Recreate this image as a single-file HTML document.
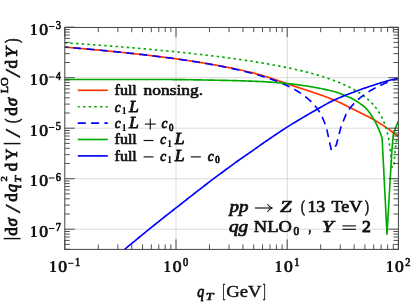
<!DOCTYPE html>
<html><head><meta charset="utf-8"><title>plot</title>
<style>
html,body{margin:0;padding:0;background:#fff;}
svg{display:block;will-change:transform;font-family:"Liberation Serif",serif;}
</style></head><body>
<svg width="412" height="305" viewBox="0 0 412 305">
<defs><clipPath id="clip"><rect x="64.8" y="27.2" width="333.60" height="222.20"/></clipPath></defs>
<rect width="412" height="305" fill="#fff"/>
<line x1="176.00" y1="27.2" x2="176.00" y2="249.4" stroke="#cfcfcf" stroke-width="0.8"/>
<line x1="287.20" y1="27.2" x2="287.20" y2="249.4" stroke="#cfcfcf" stroke-width="0.8"/>
<line x1="64.8" y1="77.70" x2="398.4" y2="77.70" stroke="#cfcfcf" stroke-width="0.8"/>
<line x1="64.8" y1="128.20" x2="398.4" y2="128.20" stroke="#cfcfcf" stroke-width="0.8"/>
<line x1="64.8" y1="178.70" x2="398.4" y2="178.70" stroke="#cfcfcf" stroke-width="0.8"/>
<line x1="64.8" y1="229.20" x2="398.4" y2="229.20" stroke="#cfcfcf" stroke-width="0.8"/>
<g clip-path="url(#clip)" fill="none" stroke-width="1.65" stroke-linejoin="round">
<path d="M64.80,47.13 L65.80,47.22 L66.80,47.30 L67.80,47.38 L68.80,47.46 L69.80,47.55 L70.80,47.63 L71.80,47.71 L72.80,47.80 L73.80,47.88 L74.80,47.97 L75.80,48.05 L76.80,48.14 L77.80,48.22 L78.80,48.31 L79.80,48.39 L80.80,48.48 L81.80,48.57 L82.80,48.66 L83.80,48.74 L84.80,48.83 L85.80,48.92 L86.80,49.01 L87.80,49.10 L88.80,49.19 L89.80,49.28 L90.80,49.37 L91.80,49.46 L92.80,49.55 L93.80,49.64 L94.80,49.73 L95.80,49.82 L96.80,49.92 L97.80,50.01 L98.80,50.10 L99.80,50.19 L100.80,50.29 L101.80,50.38 L102.80,50.48 L103.80,50.57 L104.80,50.67 L105.80,50.77 L106.80,50.86 L107.80,50.96 L108.80,51.06 L109.80,51.15 L110.80,51.25 L111.80,51.35 L112.80,51.45 L113.80,51.55 L114.80,51.65 L115.80,51.75 L116.80,51.85 L117.80,51.95 L118.80,52.05 L119.80,52.16 L120.80,52.26 L121.80,52.36 L122.80,52.47 L123.80,52.57 L124.80,52.67 L125.80,52.78 L126.80,52.89 L127.80,52.99 L128.80,53.10 L129.80,53.21 L130.80,53.31 L131.80,53.42 L132.80,53.53 L133.80,53.64 L134.80,53.75 L135.80,53.86 L136.80,53.97 L137.80,54.08 L138.80,54.20 L139.80,54.31 L140.80,54.42 L141.80,54.54 L142.80,54.65 L143.80,54.76 L144.80,54.88 L145.80,55.00 L146.80,55.11 L147.80,55.23 L148.80,55.35 L149.80,55.47 L150.80,55.59 L151.80,55.71 L152.80,55.83 L153.80,55.95 L154.80,56.07 L155.80,56.19 L156.80,56.32 L157.80,56.44 L158.80,56.57 L159.80,56.69 L160.80,56.82 L161.80,56.94 L162.80,57.07 L163.80,57.20 L164.80,57.33 L165.80,57.46 L166.80,57.59 L167.80,57.72 L168.80,57.85 L169.80,57.99 L170.80,58.12 L171.80,58.25 L172.80,58.39 L173.80,58.53 L174.80,58.66 L175.80,58.80 L176.80,58.94 L177.80,59.08 L178.80,59.22 L179.80,59.36 L180.80,59.50 L181.80,59.64 L182.80,59.79 L183.80,59.93 L184.80,60.08 L185.80,60.22 L186.80,60.37 L187.80,60.52 L188.80,60.67 L189.80,60.82 L190.80,60.97 L191.80,61.12 L192.80,61.28 L193.80,61.43 L194.80,61.59 L195.80,61.74 L196.80,61.90 L197.80,62.06 L198.80,62.22 L199.80,62.38 L200.80,62.54 L201.80,62.70 L202.80,62.87 L203.80,63.03 L204.80,63.20 L205.80,63.37 L206.80,63.53 L207.80,63.70 L208.80,63.88 L209.80,64.05 L210.80,64.22 L211.80,64.40 L212.80,64.57 L213.80,64.75 L214.80,64.93 L215.80,65.11 L216.80,65.29 L217.80,65.47 L218.80,65.66 L219.80,65.84 L220.80,66.03 L221.80,66.22 L222.80,66.41 L223.80,66.60 L224.80,66.79 L225.80,66.99 L226.80,67.18 L227.80,67.38 L228.80,67.58 L229.80,67.78 L230.80,67.98 L231.80,68.18 L232.80,68.39 L233.80,68.60 L234.80,68.80 L235.80,69.01 L236.80,69.23 L237.80,69.44 L238.80,69.66 L239.80,69.87 L240.80,70.09 L241.80,70.31 L242.80,70.54 L243.80,70.76 L244.80,70.99 L245.80,71.22 L246.80,71.45 L247.80,71.68 L248.80,71.92 L249.80,72.15 L250.80,72.39 L251.80,72.63 L252.80,72.87 L253.80,73.12 L254.80,73.37 L255.80,73.64 L256.80,73.92 L257.80,74.20 L258.80,74.48 L259.80,74.77 L260.80,75.05 L261.80,75.34 L262.80,75.63 L263.80,75.92 L264.80,76.22 L265.80,76.52 L266.80,76.83 L267.80,77.14 L268.80,77.45 L269.80,77.77 L270.80,78.09 L271.80,78.42 L272.80,78.75 L273.80,79.08 L274.80,79.42 L275.80,79.76 L276.80,80.11 L277.80,80.46 L278.80,80.81 L279.80,81.16 L280.80,81.51 L281.80,81.87 L282.80,82.22 L283.80,82.58 L284.80,82.94 L285.80,83.29 L286.80,83.64 L287.80,83.99 L288.80,84.34 L289.80,84.68 L290.80,85.03 L291.80,85.37 L292.80,85.72 L293.80,86.06 L294.80,86.40 L295.80,86.71 L296.80,87.02 L297.80,87.34 L298.80,87.65 L299.80,87.96 L300.80,88.28 L301.80,88.60 L302.80,88.92 L303.80,89.24 L304.80,89.57 L305.80,89.90 L306.80,90.23 L307.80,90.57 L308.80,90.90 L309.80,91.23 L310.80,91.57 L311.80,91.90 L312.80,92.24 L313.80,92.58 L314.80,92.91 L315.80,93.25 L316.80,93.60 L317.80,93.94 L318.80,94.29 L319.80,94.64 L320.80,94.99 L321.80,95.34 L322.80,95.70 L323.80,96.06 L324.80,96.43 L325.80,96.80 L326.80,97.17 L327.80,97.55 L328.80,97.93 L329.80,98.32 L330.80,98.71 L331.80,99.11 L332.80,99.51 L333.80,99.92 L334.80,100.34 L335.80,100.77 L336.80,101.21 L337.80,101.65 L338.80,102.10 L339.80,102.56 L340.80,103.03 L341.80,103.50 L342.80,103.98 L343.80,104.46 L344.80,104.95 L345.80,105.44 L346.80,105.93 L347.80,106.43 L348.80,106.93 L349.80,107.44 L350.80,107.94 L351.80,108.45 L352.80,108.96 L353.80,109.47 L354.80,109.97 L355.80,110.48 L356.80,110.99 L357.80,111.49 L358.80,112.00 L359.80,112.50 L360.80,113.00 L361.80,113.49 L362.80,113.98 L363.80,114.47 L364.80,114.96 L365.80,115.46 L366.80,115.95 L367.80,116.46 L368.80,116.97 L369.80,117.48 L370.80,118.01 L371.80,118.55 L372.80,119.10 L373.80,119.67 L374.80,120.25 L375.80,120.84 L376.80,121.44 L377.80,122.05 L378.80,122.67 L379.80,123.30 L380.80,123.93 L381.80,124.58 L382.80,125.23 L383.80,125.89 L384.80,126.56 L385.80,127.24 L386.80,127.93 L387.80,128.63 L388.80,129.34 L389.80,130.06 L390.80,130.78 L391.80,131.52 L392.80,132.26 L393.80,133.01 L394.80,133.78 L395.80,134.55 L396.80,135.33 L397.80,136.12" stroke="#ff3300"/>
<path d="M64.80,42.76 L65.80,42.83 L66.80,42.90 L67.80,42.96 L68.80,43.03 L69.80,43.10 L70.80,43.17 L71.80,43.24 L72.80,43.30 L73.80,43.37 L74.80,43.44 L75.80,43.51 L76.80,43.58 L77.80,43.65 L78.80,43.72 L79.80,43.79 L80.80,43.86 L81.80,43.93 L82.80,44.00 L83.80,44.07 L84.80,44.14 L85.80,44.21 L86.80,44.29 L87.80,44.36 L88.80,44.43 L89.80,44.50 L90.80,44.57 L91.80,44.65 L92.80,44.72 L93.80,44.79 L94.80,44.87 L95.80,44.94 L96.80,45.02 L97.80,45.09 L98.80,45.16 L99.80,45.24 L100.80,45.31 L101.80,45.39 L102.80,45.46 L103.80,45.54 L104.80,45.62 L105.80,45.69 L106.80,45.77 L107.80,45.85 L108.80,45.92 L109.80,46.00 L110.80,46.08 L111.80,46.16 L112.80,46.23 L113.80,46.31 L114.80,46.39 L115.80,46.47 L116.80,46.55 L117.80,46.63 L118.80,46.71 L119.80,46.79 L120.80,46.87 L121.80,46.95 L122.80,47.03 L123.80,47.11 L124.80,47.20 L125.80,47.28 L126.80,47.36 L127.80,47.44 L128.80,47.52 L129.80,47.61 L130.80,47.69 L131.80,47.78 L132.80,47.86 L133.80,47.94 L134.80,48.03 L135.80,48.11 L136.80,48.20 L137.80,48.29 L138.80,48.37 L139.80,48.46 L140.80,48.55 L141.80,48.63 L142.80,48.72 L143.80,48.81 L144.80,48.90 L145.80,48.99 L146.80,49.07 L147.80,49.16 L148.80,49.25 L149.80,49.34 L150.80,49.43 L151.80,49.52 L152.80,49.62 L153.80,49.71 L154.80,49.80 L155.80,49.89 L156.80,49.98 L157.80,50.08 L158.80,50.17 L159.80,50.27 L160.80,50.36 L161.80,50.45 L162.80,50.55 L163.80,50.65 L164.80,50.74 L165.80,50.84 L166.80,50.93 L167.80,51.03 L168.80,51.13 L169.80,51.23 L170.80,51.33 L171.80,51.43 L172.80,51.52 L173.80,51.62 L174.80,51.73 L175.80,51.83 L176.80,51.93 L177.80,52.03 L178.80,52.13 L179.80,52.23 L180.80,52.34 L181.80,52.44 L182.80,52.55 L183.80,52.65 L184.80,52.76 L185.80,52.86 L186.80,52.97 L187.80,53.07 L188.80,53.18 L189.80,53.29 L190.80,53.40 L191.80,53.51 L192.80,53.62 L193.80,53.73 L194.80,53.84 L195.80,53.95 L196.80,54.06 L197.80,54.17 L198.80,54.28 L199.80,54.40 L200.80,54.51 L201.80,54.63 L202.80,54.74 L203.80,54.86 L204.80,54.97 L205.80,55.09 L206.80,55.21 L207.80,55.33 L208.80,55.45 L209.80,55.56 L210.80,55.68 L211.80,55.81 L212.80,55.93 L213.80,56.05 L214.80,56.17 L215.80,56.30 L216.80,56.42 L217.80,56.55 L218.80,56.67 L219.80,56.80 L220.80,56.92 L221.80,57.05 L222.80,57.18 L223.80,57.31 L224.80,57.44 L225.80,57.57 L226.80,57.70 L227.80,57.84 L228.80,57.97 L229.80,58.10 L230.80,58.24 L231.80,58.37 L232.80,58.51 L233.80,58.65 L234.80,58.79 L235.80,58.93 L236.80,59.07 L237.80,59.21 L238.80,59.35 L239.80,59.49 L240.80,59.64 L241.80,59.78 L242.80,59.93 L243.80,60.07 L244.80,60.22 L245.80,60.37 L246.80,60.52 L247.80,60.67 L248.80,60.82 L249.80,60.98 L250.80,61.13 L251.80,61.29 L252.80,61.44 L253.80,61.60 L254.80,61.76 L255.80,61.92 L256.80,62.08 L257.80,62.24 L258.80,62.40 L259.80,62.57 L260.80,62.73 L261.80,62.90 L262.80,63.07 L263.80,63.24 L264.80,63.41 L265.80,63.58 L266.80,63.75 L267.80,63.93 L268.80,64.10 L269.80,64.28 L270.80,64.46 L271.80,64.64 L272.80,64.82 L273.80,65.01 L274.80,65.19 L275.80,65.38 L276.80,65.57 L277.80,65.76 L278.80,65.95 L279.80,66.14 L280.80,66.34 L281.80,66.53 L282.80,66.73 L283.80,66.93 L284.80,67.14 L285.80,67.34 L286.80,67.55 L287.80,67.75 L288.80,67.96 L289.80,68.18 L290.80,68.39 L291.80,68.61 L292.80,68.82 L293.80,69.05 L294.80,69.27 L295.80,69.49 L296.80,69.72 L297.80,69.95 L298.80,70.18 L299.80,70.42 L300.80,70.65 L301.80,70.89 L302.80,71.14 L303.80,71.38 L304.80,71.63 L305.80,71.88 L306.80,72.14 L307.80,72.39 L308.80,72.65 L309.80,72.91 L310.80,73.18 L311.80,73.45 L312.80,73.72 L313.80,74.00 L314.80,74.28 L315.80,74.56 L316.80,74.85 L317.80,75.14 L318.80,75.43 L319.80,75.73 L320.80,76.04 L321.80,76.34 L322.80,76.65 L323.80,76.97 L324.80,77.29 L325.80,77.62 L326.80,77.95 L327.80,78.28 L328.80,78.62 L329.80,78.97 L330.80,79.32 L331.80,79.68 L332.80,80.04 L333.80,80.41 L334.80,80.78 L335.80,81.16 L336.80,81.55 L337.80,81.95 L338.80,82.35 L339.80,82.76 L340.80,83.18 L341.80,83.61 L342.80,84.04 L343.80,84.49 L344.80,84.94 L345.80,85.40 L346.80,85.87 L347.80,86.36 L348.80,86.85 L349.80,87.35 L350.80,87.87 L351.80,88.40 L352.80,88.94 L353.80,89.50 L354.80,90.07 L355.80,90.66 L356.80,91.26 L357.80,91.88 L358.80,92.51 L359.80,93.17 L360.80,93.85 L361.80,94.54 L362.80,95.26 L363.80,96.01 L364.80,96.78 L365.80,97.58 L366.80,98.41 L367.80,99.27 L368.80,100.17 L369.80,101.11 L370.80,102.08 L371.80,103.11 L372.80,104.18 L373.80,105.31 L374.80,106.50 L375.80,107.76 L376.80,109.09 L377.80,110.51 L378.80,112.03 L379.80,113.67 L380.80,115.43 L381.80,117.35 L382.80,119.46 L383.80,121.78 L384.80,124.39 L385.80,127.34 L386.80,130.76 L387.80,134.80 L388.80,139.77 L389.80,146.20 L390.80,155.34 L391.80,167.00 L392.80,167.00 L393.80,167.00 L394.80,153.90 L395.80,145.24 L396.80,139.05 L397.80,134.23" stroke="#00aa00" stroke-dasharray="2.4,3.25"/>
<path d="M64.80,47.13 L65.80,47.22 L66.80,47.30 L67.80,47.38 L68.80,47.46 L69.80,47.55 L70.80,47.63 L71.80,47.71 L72.80,47.80 L73.80,47.88 L74.80,47.97 L75.80,48.05 L76.80,48.14 L77.80,48.22 L78.80,48.31 L79.80,48.39 L80.80,48.48 L81.80,48.57 L82.80,48.66 L83.80,48.74 L84.80,48.83 L85.80,48.92 L86.80,49.01 L87.80,49.10 L88.80,49.19 L89.80,49.28 L90.80,49.37 L91.80,49.46 L92.80,49.55 L93.80,49.64 L94.80,49.73 L95.80,49.82 L96.80,49.92 L97.80,50.01 L98.80,50.10 L99.80,50.20 L100.80,50.29 L101.80,50.38 L102.80,50.48 L103.80,50.57 L104.80,50.67 L105.80,50.77 L106.80,50.86 L107.80,50.96 L108.80,51.06 L109.80,51.16 L110.80,51.25 L111.80,51.35 L112.80,51.45 L113.80,51.55 L114.80,51.65 L115.80,51.75 L116.80,51.85 L117.80,51.95 L118.80,52.06 L119.80,52.16 L120.80,52.26 L121.80,52.36 L122.80,52.47 L123.80,52.57 L124.80,52.68 L125.80,52.78 L126.80,52.89 L127.80,53.00 L128.80,53.10 L129.80,53.21 L130.80,53.32 L131.80,53.43 L132.80,53.53 L133.80,53.64 L134.80,53.75 L135.80,53.87 L136.80,53.98 L137.80,54.09 L138.80,54.20 L139.80,54.31 L140.80,54.43 L141.80,54.54 L142.80,54.66 L143.80,54.77 L144.80,54.89 L145.80,55.00 L146.80,55.12 L147.80,55.24 L148.80,55.36 L149.80,55.48 L150.80,55.60 L151.80,55.72 L152.80,55.84 L153.80,55.96 L154.80,56.08 L155.80,56.20 L156.80,56.33 L157.80,56.45 L158.80,56.58 L159.80,56.70 L160.80,56.83 L161.80,56.96 L162.80,57.09 L163.80,57.22 L164.80,57.34 L165.80,57.48 L166.80,57.61 L167.80,57.74 L168.80,57.87 L169.80,58.00 L170.80,58.14 L171.80,58.27 L172.80,58.41 L173.80,58.55 L174.80,58.69 L175.80,58.82 L176.80,58.96 L177.80,59.10 L178.80,59.25 L179.80,59.39 L180.80,59.53 L181.80,59.67 L182.80,59.82 L183.80,59.97 L184.80,60.11 L185.80,60.26 L186.80,60.41 L187.80,60.56 L188.80,60.71 L189.80,60.86 L190.80,61.02 L191.80,61.17 L192.80,61.33 L193.80,61.48 L194.80,61.64 L195.80,61.80 L196.80,61.96 L197.80,62.12 L198.80,62.28 L199.80,62.45 L200.80,62.61 L201.80,62.78 L202.80,62.94 L203.80,63.11 L204.80,63.28 L205.80,63.45 L206.80,63.63 L207.80,63.80 L208.80,63.97 L209.80,64.15 L210.80,64.33 L211.80,64.51 L212.80,64.69 L213.80,64.87 L214.80,65.06 L215.80,65.24 L216.80,65.43 L217.80,65.62 L218.80,65.81 L219.80,66.00 L220.80,66.19 L221.80,66.39 L222.80,66.59 L223.80,66.79 L224.80,66.99 L225.80,67.19 L226.80,67.39 L227.80,67.60 L228.80,67.81 L229.80,68.02 L230.80,68.23 L231.80,68.45 L232.80,68.66 L233.80,68.88 L234.80,69.10 L235.80,69.33 L236.80,69.55 L237.80,69.78 L238.80,70.01 L239.80,70.24 L240.80,70.48 L241.80,70.72 L242.80,70.96 L243.80,71.20 L244.80,71.45 L245.80,71.70 L246.80,71.95 L247.80,72.20 L248.80,72.46 L249.80,72.72 L250.80,72.98 L251.80,73.25 L252.80,73.52 L253.80,73.79 L254.80,74.07 L255.80,74.35 L256.80,74.64 L257.80,74.92 L258.80,75.22 L259.80,75.51 L260.80,75.81 L261.80,76.12 L262.80,76.42 L263.80,76.74 L264.80,77.05 L265.80,77.37 L266.80,77.70 L267.80,78.03 L268.80,78.37 L269.80,78.71 L270.80,79.06 L271.80,79.41 L272.80,79.77 L273.80,80.13 L274.80,80.50 L275.80,80.88 L276.80,81.27 L277.80,81.66 L278.80,82.05 L279.80,82.46 L280.80,82.87 L281.80,83.29 L282.80,83.72 L283.80,84.16 L284.80,84.60 L285.80,85.06 L286.80,85.52 L287.80,86.00 L288.80,86.48 L289.80,86.98 L290.80,87.49 L291.80,88.01 L292.80,88.54 L293.80,89.09 L294.80,89.65 L295.80,90.22 L296.80,90.81 L297.80,91.42 L298.80,92.04 L299.80,92.68 L300.80,93.34 L301.80,94.03 L302.80,94.73 L303.80,95.46 L304.80,96.21 L305.80,96.99 L306.80,97.79 L307.80,98.63 L308.80,99.50 L309.80,100.41 L310.80,101.36 L311.80,102.35 L312.80,103.38 L313.80,104.47 L314.80,105.61 L315.80,106.82 L316.80,108.10 L317.80,109.46 L318.80,110.90 L319.80,112.45 L320.80,114.12 L321.80,115.92 L326.30,126.90 L331.30,150.20 L336.20,145.30 L341.00,126.90 L346.00,114.37 L347.00,112.68 L348.00,111.12 L349.00,109.66 L350.00,108.29 L351.00,107.00 L352.00,105.79 L353.00,104.63 L354.00,103.54 L355.00,102.49 L356.00,101.50 L357.00,100.55 L358.00,99.63 L359.00,98.76 L360.00,97.91 L361.00,97.10 L362.00,96.32 L363.00,95.56 L364.00,94.83 L365.00,94.13 L366.00,93.44 L367.00,92.78 L368.00,92.13 L369.00,91.51 L370.00,90.90 L371.00,90.31 L372.00,89.73 L373.00,89.17 L374.00,88.62 L375.00,88.08 L376.00,87.56 L377.00,87.05 L378.00,86.55 L379.00,86.07 L380.00,85.59 L381.00,85.12 L382.00,84.67 L383.00,84.22 L384.00,83.78 L385.00,83.35 L386.00,82.93 L387.00,82.52 L388.00,82.11 L389.00,81.71 L390.00,81.32 L391.00,80.94 L392.00,80.56 L393.00,80.19 L394.00,79.82 L395.00,79.46 L396.00,79.11 L397.00,78.76 L398.00,78.42" stroke="#0000ff" stroke-dasharray="8,5.3" stroke-dashoffset="4.9"/>
<path d="M64.80,79.50 L65.80,79.50 L66.80,79.50 L67.80,79.50 L68.80,79.50 L69.80,79.50 L70.80,79.50 L71.80,79.50 L72.80,79.50 L73.80,79.50 L74.80,79.50 L75.80,79.50 L76.80,79.50 L77.80,79.50 L78.80,79.50 L79.80,79.50 L80.80,79.50 L81.80,79.50 L82.80,79.50 L83.80,79.50 L84.80,79.50 L85.80,79.50 L86.80,79.50 L87.80,79.50 L88.80,79.50 L89.80,79.50 L90.80,79.50 L91.80,79.50 L92.80,79.50 L93.80,79.50 L94.80,79.50 L95.80,79.50 L96.80,79.50 L97.80,79.50 L98.80,79.50 L99.80,79.50 L100.80,79.50 L101.80,79.50 L102.80,79.50 L103.80,79.50 L104.80,79.50 L105.80,79.50 L106.80,79.50 L107.80,79.50 L108.80,79.50 L109.80,79.50 L110.80,79.50 L111.80,79.50 L112.80,79.50 L113.80,79.50 L114.80,79.50 L115.80,79.50 L116.80,79.50 L117.80,79.50 L118.80,79.50 L119.80,79.50 L120.80,79.50 L121.80,79.50 L122.80,79.50 L123.80,79.50 L124.80,79.50 L125.80,79.50 L126.80,79.50 L127.80,79.50 L128.80,79.50 L129.80,79.50 L130.80,79.50 L131.80,79.50 L132.80,79.50 L133.80,79.50 L134.80,79.50 L135.80,79.50 L136.80,79.50 L137.80,79.50 L138.80,79.50 L139.80,79.50 L140.80,79.50 L141.80,79.50 L142.80,79.50 L143.80,79.50 L144.80,79.50 L145.80,79.50 L146.80,79.50 L147.80,79.50 L148.80,79.50 L149.80,79.50 L150.80,79.50 L151.80,79.50 L152.80,79.50 L153.80,79.50 L154.80,79.50 L155.80,79.50 L156.80,79.50 L157.80,79.50 L158.80,79.50 L159.80,79.50 L160.80,79.50 L161.80,79.50 L162.80,79.50 L163.80,79.50 L164.80,79.51 L165.80,79.51 L166.80,79.52 L167.80,79.52 L168.80,79.53 L169.80,79.53 L170.80,79.54 L171.80,79.55 L172.80,79.55 L173.80,79.56 L174.80,79.57 L175.80,79.58 L176.80,79.59 L177.80,79.60 L178.80,79.61 L179.80,79.62 L180.80,79.63 L181.80,79.64 L182.80,79.66 L183.80,79.67 L184.80,79.68 L185.80,79.70 L186.80,79.71 L187.80,79.73 L188.80,79.74 L189.80,79.75 L190.80,79.77 L191.80,79.79 L192.80,79.80 L193.80,79.82 L194.80,79.83 L195.80,79.85 L196.80,79.87 L197.80,79.89 L198.80,79.90 L199.80,79.92 L200.80,79.94 L201.80,79.96 L202.80,79.97 L203.80,79.99 L204.80,80.01 L205.80,80.03 L206.80,80.05 L207.80,80.07 L208.80,80.09 L209.80,80.11 L210.80,80.12 L211.80,80.14 L212.80,80.16 L213.80,80.18 L214.80,80.20 L215.80,80.22 L216.80,80.24 L217.80,80.26 L218.80,80.28 L219.80,80.30 L220.80,80.32 L221.80,80.33 L222.80,80.35 L223.80,80.38 L224.80,80.40 L225.80,80.42 L226.80,80.44 L227.80,80.46 L228.80,80.48 L229.80,80.51 L230.80,80.53 L231.80,80.56 L232.80,80.58 L233.80,80.61 L234.80,80.63 L235.80,80.66 L236.80,80.68 L237.80,80.71 L238.80,80.74 L239.80,80.77 L240.80,80.80 L241.80,80.83 L242.80,80.86 L243.80,80.89 L244.80,80.92 L245.80,80.96 L246.80,80.99 L247.80,81.02 L248.80,81.06 L249.80,81.09 L250.80,81.13 L251.80,81.17 L252.80,81.20 L253.80,81.24 L254.80,81.28 L255.80,81.32 L256.80,81.36 L257.80,81.41 L258.80,81.45 L259.80,81.49 L260.80,81.54 L261.80,81.58 L262.80,81.63 L263.80,81.69 L264.80,81.74 L265.80,81.80 L266.80,81.86 L267.80,81.92 L268.80,81.99 L269.80,82.06 L270.80,82.13 L271.80,82.20 L272.80,82.27 L273.80,82.35 L274.80,82.43 L275.80,82.51 L276.80,82.59 L277.80,82.67 L278.80,82.75 L279.80,82.84 L280.80,82.93 L281.80,83.02 L282.80,83.11 L283.80,83.20 L284.80,83.29 L285.80,83.39 L286.80,83.48 L287.80,83.58 L288.80,83.68 L289.80,83.78 L290.80,83.89 L291.80,84.01 L292.80,84.12 L293.80,84.24 L294.80,84.36 L295.80,84.49 L296.80,84.62 L297.80,84.75 L298.80,84.89 L299.80,85.03 L300.80,85.17 L301.80,85.31 L302.80,85.45 L303.80,85.60 L304.80,85.75 L305.80,85.90 L306.80,86.06 L307.80,86.21 L308.80,86.37 L309.80,86.53 L310.80,86.69 L311.80,86.86 L312.80,87.03 L313.80,87.21 L314.80,87.39 L315.80,87.57 L316.80,87.76 L317.80,87.95 L318.80,88.14 L319.80,88.34 L320.80,88.54 L321.80,88.75 L322.80,88.96 L323.80,89.17 L324.80,89.38 L325.80,89.60 L326.80,89.82 L327.80,90.04 L328.80,90.27 L329.80,90.50 L330.80,90.74 L331.80,90.98 L332.80,91.23 L333.80,91.49 L334.80,91.77 L335.80,92.06 L336.80,92.36 L337.80,92.69 L338.80,93.05 L339.80,93.43 L340.80,93.83 L341.80,94.24 L342.80,94.65 L343.80,95.08 L344.80,95.50 L345.80,95.92 L346.80,96.33 L347.80,96.73 L348.80,97.14 L349.80,97.55 L350.80,97.99 L351.80,98.45 L352.80,98.95 L353.80,99.50 L354.80,100.08 L355.80,100.69 L356.80,101.33 L357.80,101.99 L358.80,102.67 L359.80,103.36 L360.80,104.06 L361.80,104.76 L362.80,105.49 L363.80,106.27 L364.80,107.14 L365.80,108.10 L366.80,109.18 L367.80,110.36 L368.80,111.64 L369.80,113.01 L370.80,114.46 L371.80,115.99 L372.80,117.58 L373.80,119.23 L374.80,120.95 L375.80,122.84 L376.80,124.89 L377.80,127.07 L378.80,129.36 L379.80,131.77 L380.80,134.41 L381.80,137.23 L382.10,138.10 L387.00,234.30 L391.80,152.00 L393.30,134.40 L395.90,127.30 L398.20,121.40" stroke="#00aa00"/>
<path d="M114.70,257.60 L124.70,249.30 L126.70,247.64 L128.70,245.98 L130.70,244.33 L132.70,242.68 L134.70,241.03 L136.70,239.39 L138.70,237.75 L140.70,236.12 L142.70,234.48 L144.70,232.86 L146.70,231.23 L148.70,229.61 L150.70,227.98 L152.70,226.37 L154.70,224.75 L156.70,223.14 L158.70,221.54 L160.70,219.94 L162.70,218.35 L164.70,216.76 L166.70,215.19 L168.70,213.63 L170.70,212.07 L172.70,210.51 L174.70,208.95 L176.70,207.39 L178.70,205.81 L180.70,204.23 L182.70,202.65 L184.70,201.06 L186.70,199.49 L188.70,197.92 L190.70,196.35 L192.70,194.80 L194.70,193.24 L196.70,191.69 L198.70,190.14 L200.70,188.60 L202.70,187.06 L204.70,185.52 L206.70,183.99 L208.70,182.46 L210.70,180.94 L212.70,179.43 L214.70,177.92 L216.70,176.44 L218.70,174.96 L220.70,173.48 L222.70,172.00 L224.70,170.52 L226.70,169.03 L228.70,167.55 L230.70,166.08 L232.70,164.61 L234.70,163.16 L236.70,161.71 L238.70,160.29 L240.70,158.88 L242.70,157.49 L244.70,156.10 L246.70,154.72 L248.70,153.34 L250.70,151.96 L252.70,150.57 L254.70,149.18 L256.70,147.78 L258.70,146.37 L260.70,144.95 L262.70,143.54 L264.70,142.13 L266.70,140.73 L268.70,139.35 L270.70,137.97 L272.70,136.62 L274.70,135.27 L276.70,133.95 L278.70,132.62 L280.70,131.31 L282.70,130.00 L284.70,128.68 L286.70,127.39 L288.70,126.14 L290.70,124.90 L292.70,123.67 L294.70,122.44 L296.70,121.23 L298.70,120.03 L300.70,118.84 L302.70,117.65 L304.70,116.48 L306.70,115.31 L308.70,114.14 L310.70,112.99 L312.70,111.84 L314.70,110.70 L316.70,109.57 L318.70,108.43 L320.70,107.29 L322.70,106.15 L324.70,105.01 L326.70,103.90 L328.70,102.81 L330.70,101.77 L332.70,100.77 L334.70,99.84 L336.70,98.93 L338.70,98.05 L340.70,97.20 L342.70,96.37 L344.70,95.55 L346.70,94.76 L348.70,93.98 L350.70,93.22 L352.70,92.46 L354.70,91.72 L356.70,90.99 L358.70,90.27 L360.70,89.55 L362.70,88.84 L364.70,88.13 L366.70,87.44 L368.70,86.75 L370.70,86.08 L372.70,85.41 L374.70,84.76 L376.70,84.12 L378.70,83.49 L380.70,82.88 L382.70,82.27 L384.70,81.69 L386.70,81.12 L388.70,80.56 L390.70,80.03 L392.70,79.51 L394.70,79.00 L396.70,78.51" stroke="#0000ff"/>
</g>
<path d="M64.80,249.4 v-10 M64.80,27.2 v10 M98.27,249.4 v-5 M98.27,27.2 v5 M117.86,249.4 v-5 M117.86,27.2 v5 M131.75,249.4 v-5 M131.75,27.2 v5 M142.53,249.4 v-5 M142.53,27.2 v5 M151.33,249.4 v-5 M151.33,27.2 v5 M158.77,249.4 v-5 M158.77,27.2 v5 M165.22,249.4 v-5 M165.22,27.2 v5 M170.91,249.4 v-5 M170.91,27.2 v5 M176.00,249.4 v-10 M176.00,27.2 v10 M209.47,249.4 v-5 M209.47,27.2 v5 M229.06,249.4 v-5 M229.06,27.2 v5 M242.95,249.4 v-5 M242.95,27.2 v5 M253.73,249.4 v-5 M253.73,27.2 v5 M262.53,249.4 v-5 M262.53,27.2 v5 M269.97,249.4 v-5 M269.97,27.2 v5 M276.42,249.4 v-5 M276.42,27.2 v5 M282.11,249.4 v-5 M282.11,27.2 v5 M287.20,249.4 v-10 M287.20,27.2 v10 M320.67,249.4 v-5 M320.67,27.2 v5 M340.26,249.4 v-5 M340.26,27.2 v5 M354.15,249.4 v-5 M354.15,27.2 v5 M364.93,249.4 v-5 M364.93,27.2 v5 M373.73,249.4 v-5 M373.73,27.2 v5 M381.17,249.4 v-5 M381.17,27.2 v5 M387.62,249.4 v-5 M387.62,27.2 v5 M393.31,249.4 v-5 M393.31,27.2 v5 M398.40,249.4 v-10 M398.40,27.2 v10 M64.8,249.30 h5 M398.4,249.30 h-5 M64.8,244.40 h5 M398.4,244.40 h-5 M64.8,240.40 h5 M398.4,240.40 h-5 M64.8,237.02 h5 M398.4,237.02 h-5 M64.8,234.09 h5 M398.4,234.09 h-5 M64.8,231.51 h5 M398.4,231.51 h-5 M64.8,229.20 h10 M398.4,229.20 h-10 M64.8,214.00 h5 M398.4,214.00 h-5 M64.8,205.11 h5 M398.4,205.11 h-5 M64.8,198.80 h5 M398.4,198.80 h-5 M64.8,193.90 h5 M398.4,193.90 h-5 M64.8,189.90 h5 M398.4,189.90 h-5 M64.8,186.52 h5 M398.4,186.52 h-5 M64.8,183.59 h5 M398.4,183.59 h-5 M64.8,181.01 h5 M398.4,181.01 h-5 M64.8,178.70 h10 M398.4,178.70 h-10 M64.8,163.50 h5 M398.4,163.50 h-5 M64.8,154.61 h5 M398.4,154.61 h-5 M64.8,148.30 h5 M398.4,148.30 h-5 M64.8,143.40 h5 M398.4,143.40 h-5 M64.8,139.40 h5 M398.4,139.40 h-5 M64.8,136.02 h5 M398.4,136.02 h-5 M64.8,133.09 h5 M398.4,133.09 h-5 M64.8,130.51 h5 M398.4,130.51 h-5 M64.8,128.20 h10 M398.4,128.20 h-10 M64.8,113.00 h5 M398.4,113.00 h-5 M64.8,104.11 h5 M398.4,104.11 h-5 M64.8,97.80 h5 M398.4,97.80 h-5 M64.8,92.90 h5 M398.4,92.90 h-5 M64.8,88.90 h5 M398.4,88.90 h-5 M64.8,85.52 h5 M398.4,85.52 h-5 M64.8,82.59 h5 M398.4,82.59 h-5 M64.8,80.01 h5 M398.4,80.01 h-5 M64.8,77.70 h10 M398.4,77.70 h-10 M64.8,62.50 h5 M398.4,62.50 h-5 M64.8,53.61 h5 M398.4,53.61 h-5 M64.8,47.30 h5 M398.4,47.30 h-5 M64.8,42.40 h5 M398.4,42.40 h-5 M64.8,38.40 h5 M398.4,38.40 h-5 M64.8,35.02 h5 M398.4,35.02 h-5 M64.8,32.09 h5 M398.4,32.09 h-5 M64.8,29.51 h5 M398.4,29.51 h-5 M64.8,27.20 h10 M398.4,27.20 h-10" stroke="#333" stroke-width="0.85" fill="none"/>
<rect x="64.8" y="27.45" width="333.60" height="221.95" fill="none" stroke="#424242" stroke-width="1"/>
<g fill="none" stroke-width="1.65">
<line x1="77.8" x2="107.8" y1="90.3" y2="90.3" stroke="#ff3300"/>
<line x1="77.8" x2="107.8" y1="106.7" y2="106.7" stroke="#00aa00" stroke-dasharray="2.4,3.25" stroke-dashoffset="0.4"/>
<line x1="77.8" x2="107.8" y1="123.1" y2="123.1" stroke="#0000ff" stroke-dasharray="8,5.3"/>
<line x1="77.8" x2="107.8" y1="139.5" y2="139.5" stroke="#00aa00"/>
<line x1="77.8" x2="107.8" y1="155.9" y2="155.9" stroke="#0000ff"/>
</g>
<g font-size="15.5" fill="#111" stroke="#111" stroke-width="0.75" stroke-linejoin="round">
<text transform="translate(114.58,95.20) scale(1.033,1.000)" stroke-width="0.726">full</text>
<text transform="translate(143.57,95.20) scale(1.122,1.000)" stroke-width="0.668">nonsing.</text>
<text transform="translate(114.72,111.60) scale(0.865,1.000)" font-style="italic" stroke-width="0.850">c</text>
<text transform="translate(121.40,114.20) scale(0.963,0.954)" font-weight="bold" font-size="10.8" stroke="none">1</text>
<text transform="translate(129.04,111.60) scale(1.142,1.071)" font-style="italic" stroke-width="0.745">L</text>
<text transform="translate(114.72,128.00) scale(0.865,1.000)" font-style="italic" stroke-width="0.850">c</text>
<text transform="translate(121.40,130.60) scale(0.963,0.954)" font-weight="bold" font-size="10.8" stroke="none">1</text>
<text transform="translate(129.04,128.00) scale(1.142,1.071)" font-style="italic" stroke-width="0.745">L</text>
<rect x="144.90" y="123.52" width="10.80" height="1.15" stroke="none"/><rect x="149.73" y="118.70" width="1.15" height="10.80" stroke="none"/>
<text transform="translate(161.53,128.00) scale(0.865,1.000)" font-style="italic" stroke-width="0.850">c</text>
<text transform="translate(169.05,130.60) scale(0.815,0.884)" font-size="10.8" stroke-width="1.018">0</text>
<text transform="translate(114.58,144.40) scale(1.033,1.000)" stroke-width="0.726">full</text>
<rect x="143.60" y="139.93" width="9.90" height="1.15" stroke="none"/>
<text transform="translate(160.33,144.40) scale(0.865,1.000)" font-style="italic" stroke-width="0.850">c</text>
<text transform="translate(167.00,147.00) scale(0.963,0.954)" font-weight="bold" font-size="10.8" stroke="none">1</text>
<text transform="translate(174.64,144.40) scale(1.142,1.071)" font-style="italic" stroke-width="0.745">L</text>
<text transform="translate(114.58,160.80) scale(1.033,1.000)" stroke-width="0.726">full</text>
<rect x="143.60" y="156.33" width="9.90" height="1.15" stroke="none"/>
<text transform="translate(160.33,160.80) scale(0.865,1.000)" font-style="italic" stroke-width="0.850">c</text>
<text transform="translate(167.00,163.40) scale(0.963,0.954)" font-weight="bold" font-size="10.8" stroke="none">1</text>
<text transform="translate(174.64,160.80) scale(1.142,1.071)" font-style="italic" stroke-width="0.745">L</text>
<rect x="190.70" y="156.33" width="10.20" height="1.15" stroke="none"/>
<text transform="translate(207.83,160.80) scale(0.865,1.000)" font-style="italic" stroke-width="0.850">c</text>
<text transform="translate(215.35,163.40) scale(0.815,0.884)" font-size="10.8" stroke-width="1.018">0</text>
<text transform="translate(229.54,211.90) scale(1.142,1.000)" font-style="italic" font-size="16.5" stroke-width="0.744">pp</text>
<path d="M254.90,208.00 H271.70" fill="none" stroke-width="1.15" stroke-linecap="butt"/><path d="M267.70,204.40 Q268.90,207.20 272.30,208.00 Q268.90,208.80 267.70,211.60" fill="none" stroke-width="1.1" stroke-linecap="round"/>
<text transform="translate(279.93,211.90) scale(1.353,1.071)" font-style="italic" stroke-width="0.628">Z</text>
<text transform="translate(300.88,212.10) scale(0.661,1.000)" font-size="17.5" stroke-width="0.750">(</text>
<text transform="translate(307.38,211.90) scale(1.152,1.055)" stroke-width="0.651">13</text>
<text transform="translate(331.57,211.90) scale(1.166,1.076)" stroke-width="0.643">TeV</text>
<text transform="translate(365.07,212.10) scale(0.661,1.000)" font-size="17.5" stroke-width="0.750">)</text>
<text transform="translate(229.03,231.50) scale(1.161,1.000)" font-style="italic" font-size="16.5" stroke-width="0.732">qg</text>
<text transform="translate(253.78,231.50) scale(1.195,1.065)" stroke-width="0.628">NLO</text>
<text transform="translate(293.48,234.50) scale(1.046,1.062)" font-size="10.8" stroke-width="0.706">0</text>
<text transform="translate(308.45,231.50) scale(0.635,1.000)" font-size="17" stroke-width="0.900">,</text>
<text transform="translate(321.73,231.50) scale(1.373,1.071)" font-style="italic" stroke-width="0.619">Y</text>
<rect x="342.40" y="225.33" width="13.50" height="1.15" stroke="none"/><rect x="342.40" y="228.73" width="13.50" height="1.15" stroke="none"/>
<text transform="translate(362.10,231.50) scale(1.148,1.043)" stroke-width="0.871">2</text>
<text transform="translate(48.95,271.60) scale(0.988,1.061)" font-weight="bold" font-size="16" stroke="none">1</text>
<text transform="translate(58.35,271.60) scale(1.100,1.015)" font-size="16" stroke-width="0.727">0</text>
<rect x="68.05" y="262.78" width="5.50" height="1.05" stroke="none"/>
<text transform="translate(75.00,266.00) scale(0.963,1.073)" font-size="10.8" stroke-width="0.652">1</text>
<text transform="translate(163.30,271.60) scale(0.988,1.061)" font-weight="bold" font-size="16" stroke="none">1</text>
<text transform="translate(172.70,271.60) scale(1.100,1.015)" font-size="16" stroke-width="0.727">0</text>
<text transform="translate(182.95,266.00) scale(0.963,1.065)" font-size="10.8" stroke-width="0.657">0</text>
<text transform="translate(274.50,271.60) scale(0.988,1.061)" font-weight="bold" font-size="16" stroke="none">1</text>
<text transform="translate(283.90,271.60) scale(1.100,1.015)" font-size="16" stroke-width="0.727">0</text>
<text transform="translate(294.15,266.00) scale(0.963,1.073)" font-size="10.8" stroke-width="0.652">1</text>
<text transform="translate(385.70,271.60) scale(0.988,1.061)" font-weight="bold" font-size="16" stroke="none">1</text>
<text transform="translate(395.10,271.60) scale(1.100,1.015)" font-size="16" stroke-width="0.727">0</text>
<text transform="translate(405.35,266.00) scale(0.963,1.070)" font-size="10.8" stroke-width="0.654">2</text>
<text transform="translate(29.80,34.80) scale(0.988,1.061)" font-weight="bold" font-size="16" stroke="none">1</text>
<text transform="translate(39.20,34.80) scale(1.100,1.015)" font-size="16" stroke-width="0.727">0</text>
<rect x="48.90" y="25.97" width="5.50" height="1.05" stroke="none"/>
<text transform="translate(55.85,29.20) scale(0.963,1.070)" font-size="10.8" stroke-width="0.654">3</text>
<text transform="translate(29.80,85.30) scale(0.988,1.061)" font-weight="bold" font-size="16" stroke="none">1</text>
<text transform="translate(39.20,85.30) scale(1.100,1.015)" font-size="16" stroke-width="0.727">0</text>
<rect x="48.90" y="76.47" width="5.50" height="1.05" stroke="none"/>
<text transform="translate(55.85,79.70) scale(0.963,1.076)" font-size="10.8" stroke-width="0.650">4</text>
<text transform="translate(29.80,135.80) scale(0.988,1.061)" font-weight="bold" font-size="16" stroke="none">1</text>
<text transform="translate(39.20,135.80) scale(1.100,1.015)" font-size="16" stroke-width="0.727">0</text>
<rect x="48.90" y="126.97" width="5.50" height="1.05" stroke="none"/>
<text transform="translate(55.85,130.20) scale(0.963,1.081)" font-size="10.8" stroke-width="0.647">5</text>
<text transform="translate(29.80,186.30) scale(0.988,1.061)" font-weight="bold" font-size="16" stroke="none">1</text>
<text transform="translate(39.20,186.30) scale(1.100,1.015)" font-size="16" stroke-width="0.727">0</text>
<rect x="48.90" y="177.47" width="5.50" height="1.05" stroke="none"/>
<text transform="translate(55.85,180.70) scale(0.963,1.070)" font-size="10.8" stroke-width="0.654">6</text>
<text transform="translate(29.80,236.80) scale(0.988,1.061)" font-weight="bold" font-size="16" stroke="none">1</text>
<text transform="translate(39.20,236.80) scale(1.100,1.015)" font-size="16" stroke-width="0.727">0</text>
<rect x="48.90" y="227.97" width="5.50" height="1.05" stroke="none"/>
<text transform="translate(55.85,231.20) scale(0.963,1.081)" font-size="10.8" stroke-width="0.647">7</text>
<text transform="translate(197.23,297.00) scale(0.869,1.000)" font-style="italic" font-size="16" stroke-width="0.850">q</text>
<text transform="translate(205.73,299.90) scale(1.285,0.929)" font-style="italic" font-size="10.8" stroke-width="0.661">T</text>
<text transform="translate(222.45,297.40) scale(0.471,1.000)" font-size="18.5" stroke-width="0.500">[</text>
<text transform="translate(226.22,297.00) scale(1.208,1.089)" stroke-width="0.373">GeV</text>
<text transform="translate(262.85,297.40) scale(0.471,1.000)" font-size="18.5" stroke-width="0.500">]</text>
<g transform="translate(17.0,238.7) rotate(-90)">
<rect x="-0.60" y="-13.3" width="1.45" height="16.8" stroke="none"/>
<text transform="translate(2.95,0.00) scale(1.018,1.000)" font-size="16.5" stroke-width="0.884">d</text>
<text transform="translate(12.50,0.00) scale(0.964,1.000)" font-style="italic" font-size="17" stroke-width="1.000">σ</text>
<text transform="translate(25.55,3.40) scale(1.488,1.000)" font-size="22" stroke-width="0.336">/</text>
<text transform="translate(36.85,0.00) scale(1.018,1.000)" font-size="16.5" stroke-width="0.884">d</text>
<text transform="translate(46.82,0.00) scale(0.952,1.000)" font-style="italic" font-size="16.5" stroke-width="0.850">q</text>
<text transform="translate(56.32,3.60) scale(1.090,0.774)" font-style="italic" font-size="10.8" stroke-width="0.780">T</text>
<text transform="translate(57.17,-9.60) scale(1.009,0.773)" font-size="10.8" stroke-width="0.743">2</text>
<text transform="translate(67.45,0.00) scale(1.018,1.000)" font-size="16.5" stroke-width="0.884">d</text>
<text transform="translate(78.47,0.00) scale(1.050,1.106)" stroke-width="0.678">Y</text>
<rect x="94.40" y="-13.3" width="1.45" height="16.8" stroke="none"/>
<text transform="translate(101.05,3.40) scale(1.488,1.000)" font-size="22" stroke-width="0.336">/</text>
<text transform="translate(115.58,0.60) scale(0.703,1.000)" font-size="19" stroke-width="0.750">(</text>
<text transform="translate(122.85,0.00) scale(1.018,1.000)" font-size="16.5" stroke-width="0.884">d</text>
<text transform="translate(132.80,0.00) scale(0.964,1.000)" font-style="italic" font-size="17" stroke-width="1.000">σ</text>
<text transform="translate(145.38,-8.90) scale(1.101,0.871)" font-size="10.8" stroke-width="0.681">LO</text>
<text transform="translate(161.05,3.40) scale(1.488,1.000)" font-size="22" stroke-width="0.336">/</text>
<text transform="translate(170.25,0.00) scale(1.018,1.000)" font-size="16.5" stroke-width="0.884">d</text>
<text transform="translate(180.93,0.00) scale(1.233,1.101)" font-style="italic" stroke-width="0.689">Y</text>
<text transform="translate(195.78,0.60) scale(0.703,1.000)" font-size="19" stroke-width="0.750">)</text>
</g>
</g>
</svg>
</body></html>
